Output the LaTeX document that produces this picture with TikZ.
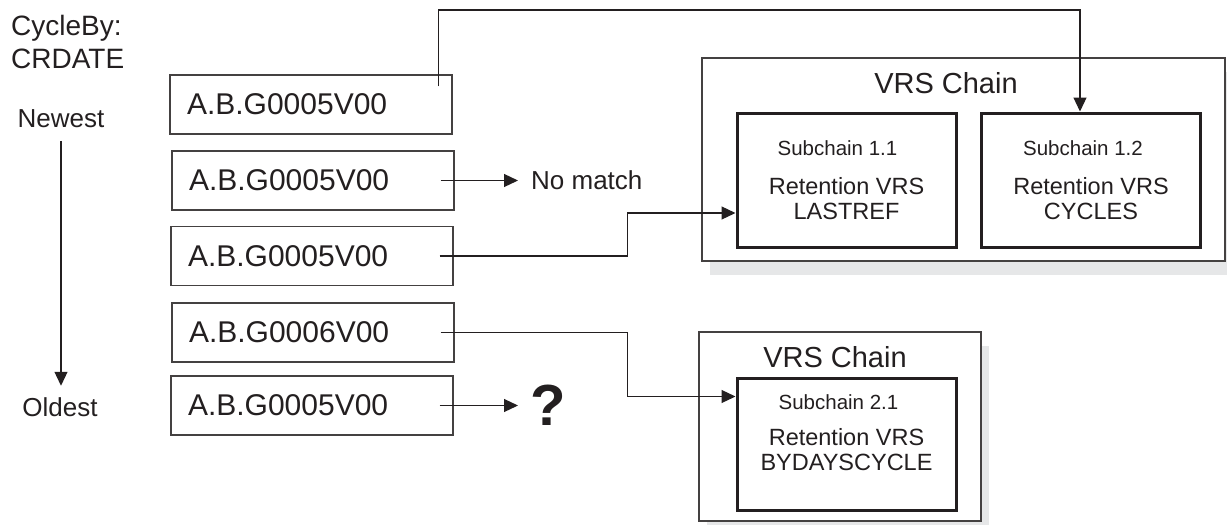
\documentclass[tikz,border=0pt]{standalone}
\usepackage{fontspec}
\setmainfont{Liberation Sans}
\usetikzlibrary{arrows.meta,shadows}

\definecolor{ink}{HTML}{231F20}
\definecolor{shade}{HTML}{E6E7E8}

\begin{document}
\begin{tikzpicture}[x=1pt,y=-1pt,>={Triangle[length=14pt,width=13pt]},
  every node/.style={text=ink},
  lbl/.style={font=\fontsize{26}{30}\selectfont,inner sep=0pt},
  filebox/.style={draw=ink!85,line width=1.4pt,minimum width=282pt,minimum height=59pt,
    text width=248pt,inner xsep=17pt,align=left,font=\fontsize{30}{36}\selectfont},
  chainbox/.style={draw=ink!85,line width=1.2pt,fill=white,
    drop shadow={shadow xshift=8pt,shadow yshift=-14pt,fill=shade,opacity=1}},
  chaintitle/.style={font=\fontsize{29}{34}\selectfont,inner sep=0pt},
  subbox/.style={draw=ink,line width=3pt,minimum width=219pt,minimum height=134pt,
    align=center,font=\fontsize{23.5}{25}\selectfont},
  flow/.style={->,draw=ink,line width=1.2pt}]
  \useasboundingbox (0,0) rectangle (1227,525);
  % order of the cycles
  \node[lbl,font=\fontsize{28}{33}\selectfont,align=left,anchor=north west] (cycleby) at (11,14.6) {CycleBy:\\CRDATE};
  \node[lbl] (newest) at (61,118.5) {Newest};
  \node[lbl] (oldest) at (60,407.5) {Oldest};
  \draw[flow,shorten <=13pt,shorten >=12pt] (newest.south) -- (newest.south |- oldest.north);
  % generations
  \node[filebox] (file1) at (311,104.5) {A.B.G0005V00};
  \node[filebox] (file2) at (313,180.5) {A.B.G0005V00};
  \node[filebox] (file3) at (312,256) {A.B.G0005V00};
  \node[filebox] (file4) at (313,332.5) {A.B.G0006V00};
  \node[filebox] (file5) at (312,405.5) {A.B.G0005V00};
  % first chain
  \node[chainbox,minimum width=523pt,minimum height=203pt] (chain1) at (963.5,159.5) {};
  \node[chaintitle] (title1) at (946,83.5) {VRS Chain};
  \node[subbox] (sub11) at (846.5,180) {{\fontsize{20.5}{24}\selectfont Subchain 1.1\hspace*{18pt}}\\[14pt]Retention VRS\\LASTREF};
  \node[subbox] (sub12) at (1091,180) {{\fontsize{20.5}{24}\selectfont Subchain 1.2\hspace*{16pt}}\\[14pt]Retention VRS\\CYCLES};
  % second chain
  \node[chainbox,minimum width=282pt,minimum height=189pt] (chain2) at (840,426.5) {};
  \node[chaintitle] (title2) at (835,357.5) {VRS Chain};
  \node[subbox,minimum height=132pt,text depth=22pt] (sub21) at (846.5,444) {{\fontsize{20.5}{24}\selectfont Subchain 2.1\hspace*{16pt}}\\[11pt]Retention VRS\\BYDAYSCYCLE};
  % results
  \node[lbl,anchor=west,inner xsep=13pt] (nomatch) at (518,180.5) {No match};
  \node[anchor=west,inner sep=0pt,inner xsep=12pt,font=\fontsize{58}{60}\selectfont\bfseries] (unknown) at (518,405.5) {?};
  \coordinate (bend) at (1080,10);
  \draw[flow] ([xshift=-14pt,yshift=-12pt]file1.north east) |- (bend) -- (bend |- sub12.north);
  \draw[flow] ([xshift=-14pt]file2.east) -- (nomatch.west);
  \draw[flow] ([xshift=-14pt]file3.east) -- ++(188,0) |- ([yshift=-33pt]sub11.west);
  \draw[flow] ([xshift=-14pt]file4.east) -- ++(187,0) |- ([yshift=-20pt]sub21.north west);
  \draw[flow] ([xshift=-14pt]file5.east) -- (unknown.west);
\end{tikzpicture}
\end{document}
